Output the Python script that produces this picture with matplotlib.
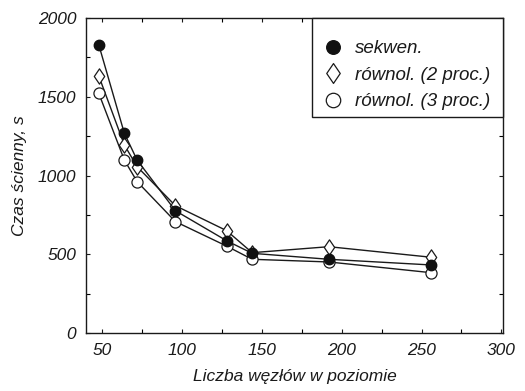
import matplotlib
matplotlib.use("Agg")
import matplotlib.pyplot as plt
from matplotlib.ticker import MultipleLocator
from matplotlib.path import Path
from matplotlib.patches import Rectangle

plt.rcParams['font.family'] = ['Liberation Sans', 'DejaVu Sans']
plt.rcParams['font.style'] = 'italic'

nodes = [48, 64, 72, 96, 128, 144, 192, 256]
sekwen = [1830, 1268, 1098, 776, 586, 506, 468, 432]
rownol2 = [1632, 1194, 1056, 808, 650, 510, 548, 481]
rownol3 = [1522, 1098, 961, 707, 552, 468, 451, 383]

labels = ['sekwen.', 'równol. (2 proc.)', 'równol. (3 proc.)']
xticks = [50, 100, 150, 200, 250, 300]
yticks = [0, 500, 1000, 1500, 2000]

diamond = Path([(0, 1), (0.68, 0), (0, -1), (-0.68, 0), (0, 1)],
               [Path.MOVETO, Path.LINETO, Path.LINETO, Path.LINETO, Path.CLOSEPOLY])

fig = plt.figure(figsize=(5.25, 3.91), dpi=100)
ax = fig.add_axes([86/525, 1 - 333/391, (503-86)/525, (333-18)/391])

lw = 1.0
ax.plot(nodes, sekwen, '-', color='#1a1a1a', lw=lw, marker='o', ms=7.5,
        mfc='#111111', mec='#111111', label=labels[0], zorder=4)
ax.plot(nodes, rownol2, '-', color='#1a1a1a', lw=lw, marker=diamond, ms=11,
        mfc='white', mec='#1a1a1a', mew=0.9, label=labels[1], zorder=3)
ax.plot(nodes, rownol3, '-', color='#1a1a1a', lw=lw, marker='o', ms=8,
        mfc='white', mec='#1a1a1a', mew=0.9, label=labels[2], zorder=3)

ax.set_xlim(40, 301)
ax.set_ylim(0, 2000)
ax.set_xticks(xticks)
ax.set_yticks(yticks)
ax.xaxis.set_minor_locator(MultipleLocator(25))
ax.yaxis.set_minor_locator(MultipleLocator(250))
ax.tick_params(which='both', direction='in', top=True, right=True, length=3, width=0.8)
ax.tick_params(axis='both', which='major', labelsize=12.5, pad=7, colors='#1a1a1a')
for lab in ax.get_xticklabels() + ax.get_yticklabels():
    lab.set_style('italic')
for s in ax.spines.values():
    s.set_linewidth(1.0)
    s.set_color('#1a1a1a')

ax.set_xlabel('Liczba węzłów w poziomie', fontsize=12.5, style='italic', labelpad=8,
              color='#1a1a1a')
ax.set_ylabel('Czas ścienny, s', fontsize=12.5, style='italic', labelpad=8,
              color='#1a1a1a')

# legend frame (drawn separately to get the asymmetric padding of the original)
x0 = (312 - 86) / 417
y0 = (333 - 117) / 315
frame = Rectangle((x0, y0), 1 - x0, 1 - y0, transform=ax.transAxes,
                  facecolor='white', edgecolor='#1a1a1a', lw=1.0, zorder=5,
                  clip_on=False)
ax.add_patch(frame)

leg = ax.legend(loc='upper left', bbox_to_anchor=((325 - 86) / 417, (333 - 40) / 315),
                borderaxespad=0, frameon=False, fontsize=13.5, handlelength=0.9,
                markerscale=1.3, handletextpad=0.7, borderpad=0, labelspacing=0.5)
leg.set_zorder(6)
for t in leg.get_texts():
    t.set_style('italic')
    t.set_color('#1a1a1a')
for h in leg.get_lines():
    h.set_linestyle('none')

fig.savefig('out.png', dpi=100)
